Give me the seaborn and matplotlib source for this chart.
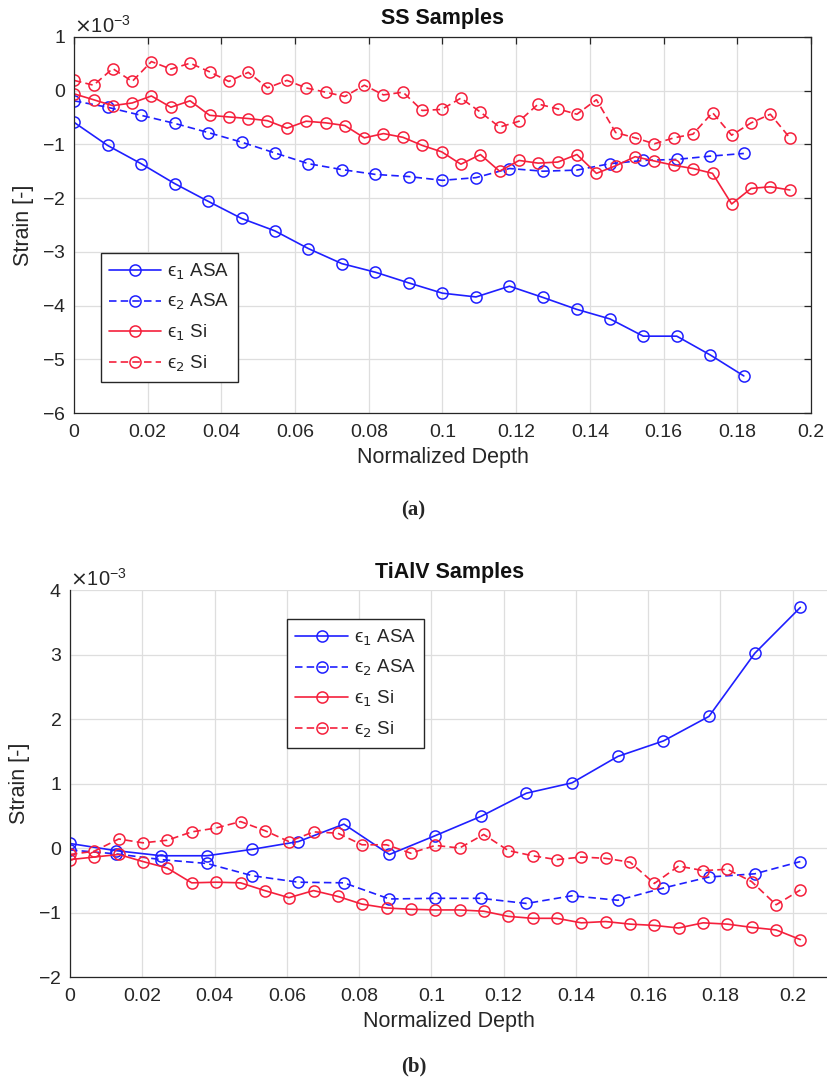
import numpy as np
import pandas as pd
import matplotlib
matplotlib.use("Agg")
import matplotlib.pyplot as plt
from matplotlib.ticker import FuncFormatter, ScalarFormatter
import seaborn as sns

# ==========================================================
# DATA (strain values in units of 1e-3)
# ==========================================================

# --- (a) SS samples ---
ss_depth_asa = [0.0, 0.0091, 0.0182, 0.0273, 0.0364, 0.0455, 0.0545, 0.0636, 0.0727, 0.0818,
                0.0909, 0.1000, 0.1091, 0.1182, 0.1273, 0.1364, 0.1455, 0.1545, 0.1636, 0.1727, 0.1818]
ss_e1_asa = [-0.59, -1.02, -1.36, -1.73, -2.06, -2.38, -2.61, -2.94, -3.22, -3.38,
             -3.58, -3.77, -3.84, -3.64, -3.85, -4.07, -4.25, -4.57, -4.57, -4.92, -5.31]
ss_e2_asa = [-0.19, -0.31, -0.46, -0.61, -0.78, -0.96, -1.16, -1.36, -1.47, -1.56,
             -1.60, -1.67, -1.62, -1.45, -1.50, -1.48, -1.36, -1.30, -1.28, -1.22, -1.17]

ss_depth_si = [0.0, 0.0053, 0.0105, 0.0158, 0.0210, 0.0263, 0.0315, 0.0368, 0.0420, 0.0473,
               0.0525, 0.0578, 0.0630, 0.0683, 0.0735, 0.0788, 0.0840, 0.0893, 0.0945, 0.0998,
               0.1050, 0.1103, 0.1155, 0.1208, 0.1260, 0.1313, 0.1365, 0.1418, 0.1470, 0.1523,
               0.1575, 0.1628, 0.1680, 0.1733, 0.1785, 0.1838, 0.1890, 0.1943]
ss_e1_si = [-0.06, -0.17, -0.28, -0.23, -0.10, -0.31, -0.19, -0.46, -0.49, -0.52,
            -0.56, -0.70, -0.57, -0.60, -0.65, -0.88, -0.80, -0.87, -1.02, -1.14,
            -1.37, -1.19, -1.50, -1.30, -1.35, -1.33, -1.19, -1.54, -1.40, -1.23,
            -1.31, -1.39, -1.45, -1.54, -2.11, -1.82, -1.79, -1.85]
ss_e2_si = [0.19, 0.10, 0.41, 0.17, 0.54, 0.40, 0.51, 0.35, 0.17, 0.34,
            0.05, 0.19, 0.05, -0.03, -0.11, 0.10, -0.08, -0.03, -0.37, -0.35,
            -0.14, -0.40, -0.68, -0.57, -0.25, -0.34, -0.44, -0.17, -0.78, -0.88,
            -0.99, -0.88, -0.81, -0.41, -0.83, -0.60, -0.44, -0.88]

# --- (b) TiAlV samples ---
ti_depth_asa = [0.0, 0.0126, 0.0253, 0.0379, 0.0505, 0.0632, 0.0758, 0.0884, 0.1010,
                0.1137, 0.1263, 0.1389, 0.1516, 0.1642, 0.1768, 0.1895, 0.2021]
ti_e1_asa = [0.07, -0.04, -0.12, -0.12, -0.02, 0.10, 0.37, -0.10, 0.19,
             0.49, 0.85, 1.01, 1.42, 1.66, 2.04, 3.02, 3.73]
ti_e2_asa = [-0.03, -0.09, -0.18, -0.24, -0.43, -0.53, -0.54, -0.79, -0.78,
             -0.78, -0.86, -0.74, -0.81, -0.62, -0.45, -0.40, -0.21]

ti_depth_si = [0.0, 0.0067, 0.0135, 0.0202, 0.0269, 0.0337, 0.0404, 0.0472, 0.0539, 0.0606,
               0.0674, 0.0741, 0.0808, 0.0876, 0.0943, 0.1011, 0.1078, 0.1145, 0.1213, 0.1280,
               0.1347, 0.1415, 0.1482, 0.1550, 0.1617, 0.1684, 0.1752, 0.1819, 0.1886, 0.1954, 0.2021]
ti_e1_si = [-0.18, -0.14, -0.10, -0.21, -0.31, -0.54, -0.53, -0.54, -0.66, -0.77,
            -0.66, -0.75, -0.87, -0.93, -0.95, -0.96, -0.96, -0.98, -1.06, -1.09,
            -1.09, -1.16, -1.14, -1.18, -1.20, -1.24, -1.16, -1.18, -1.23, -1.27, -1.42]
ti_e2_si = [-0.10, -0.05, 0.14, 0.08, 0.12, 0.25, 0.31, 0.41, 0.27, 0.10,
            0.25, 0.23, 0.05, 0.05, -0.08, 0.04, 0.00, 0.21, -0.04, -0.12,
            -0.18, -0.14, -0.16, -0.22, -0.55, -0.28, -0.35, -0.33, -0.52, -0.88, -0.65]

series_labels = ["\u03f5$_1$ ASA", "\u03f5$_2$ ASA", "\u03f5$_1$ Si", "\u03f5$_2$ Si"]

# ==========================================================
# STYLE
# ==========================================================

sns.set_style("white")
plt.rcParams["font.family"] = ["Liberation Sans", "DejaVu Sans"]
plt.rcParams["mathtext.fontset"] = "dejavusans"

BLUE = "#1f1fff"
RED = "#f5203c"
styles = [(BLUE, "-"), (BLUE, "--"), (RED, "-"), (RED, "--")]


def draw_panel(ax, title, depths, values, ylim, yticks, xmax, box, legend_anchor):
    for (x, y), label, (color, ls) in zip(zip(depths, values), series_labels, styles):
        df = pd.DataFrame({"depth": x, "strain": np.array(y) * 1e-3})
        sns.lineplot(data=df, x="depth", y="strain", ax=ax, color=color,
                     linestyle=ls, linewidth=1.2, marker="o", markersize=8,
                     markerfacecolor="none", markeredgecolor=color,
                     markeredgewidth=1.1, label=label)
        if ls == "--":
            ax.lines[-1].set_dashes((4.5, 2.5))

    ax.set_xlim(0, xmax)
    ax.set_ylim(ylim[0] * 1e-3, ylim[1] * 1e-3)
    ax.set_xticks(np.arange(0, 0.201, 0.02))
    ax.set_yticks(np.array(yticks) * 1e-3)
    ax.xaxis.set_major_formatter(FuncFormatter(lambda v, p: f"{v:g}"))
    fmt = ScalarFormatter(useMathText=True)
    fmt.set_powerlimits((0, 0))
    ax.yaxis.set_major_formatter(fmt)
    ax.yaxis.get_offset_text().set_fontsize(14.5)
    ax.yaxis.get_offset_text().set_color("#262626")

    ax.grid(True, color="#dedede", linewidth=0.9)
    ax.tick_params(direction="in", length=5, width=0.9, labelsize=14,
                   colors="#262626", top=box, right=box)
    ax.tick_params(axis="x", pad=8)
    ax.tick_params(axis="y", pad=6)
    for side, sp in ax.spines.items():
        sp.set_color("#262626")
        sp.set_linewidth(0.9)
        if side in ("top", "right"):
            sp.set_visible(box)

    ax.set_title(title, fontsize=15.5, fontweight="bold", color="#111111", pad=9)
    ax.set_xlabel("Normalized Depth", fontsize=15.5, color="#262626", labelpad=4)
    ax.set_ylabel("Strain [-]", fontsize=15.5, color="#262626", labelpad=6)

    leg = ax.legend(loc="upper left", bbox_to_anchor=legend_anchor, borderaxespad=0,
                    fontsize=13.5, handlelength=2.8, handletextpad=0.3,
                    labelspacing=0.55, borderpad=0.45, frameon=True,
                    fancybox=False, framealpha=1, edgecolor="#262626")
    leg.get_frame().set_linewidth(1.0)


# ==========================================================
# FIGURE
# ==========================================================

fig = plt.figure(figsize=(8.27, 10.84), dpi=100)

ax_a = fig.add_axes([0.0895, 0.619, 0.891, 0.347])
draw_panel(ax_a, "SS Samples",
           [ss_depth_asa, ss_depth_asa, ss_depth_si, ss_depth_si],
           [ss_e1_asa, ss_e2_asa, ss_e1_si, ss_e2_si],
           (-6, 1), range(-6, 2), 0.2, True, (0.036, 0.425))

ax_b = fig.add_axes([0.0846, 0.0987, 0.9177, 0.357])
draw_panel(ax_b, "TiAlV Samples",
           [ti_depth_asa, ti_depth_asa, ti_depth_si, ti_depth_si],
           [ti_e1_asa, ti_e2_asa, ti_e1_si, ti_e2_si],
           (-2, 4), range(-2, 5), 0.21, False, (0.286, 0.925))

fig.text(0.5, 0.529, "(a)", ha="center", va="center", fontsize=15,
         fontweight="bold", family="Liberation Serif")
fig.text(0.5, 0.016, "(b)", ha="center", va="center", fontsize=15,
         fontweight="bold", family="Liberation Serif")

fig.savefig("out.png", dpi=100)
